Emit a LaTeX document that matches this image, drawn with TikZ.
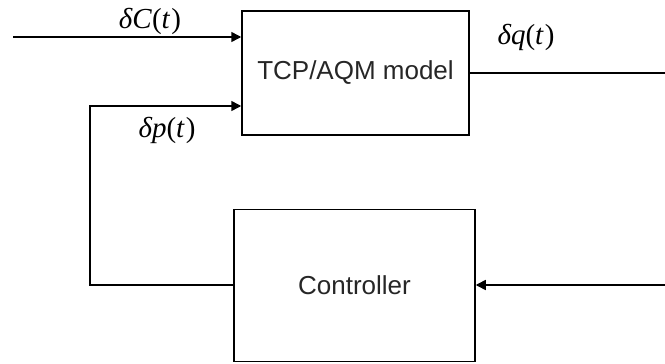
\documentclass[tikz,border=0pt]{standalone}
\usepackage{fontspec}
\setmainfont{Liberation Serif}
\newfontfamily\arialf{Liberation Sans}
\usetikzlibrary{arrows.meta}
\begin{document}
\begin{tikzpicture}[x=1pt,y=-1pt,
  blockbox/.style={draw,line width=1.5pt,inner sep=0pt,font=\arialf\fontsize{26}{30}\selectfont,text=black!85},
  conn/.style={line width=1.5pt},
  arr/.style={conn,-{Triangle[length=10pt,width=10pt]}},
  sig/.style={anchor=base,inner sep=0pt,font=\fontsize{29}{32}\selectfont}]
\useasboundingbox (0,0) rectangle (665,364);
\node[blockbox,minimum width=227pt,minimum height=124pt] (tcp) at (355.5,73) {TCP/AQM model};
\node[blockbox,minimum width=241pt,minimum height=152pt] (ctrl) at (354.5,285.5) {Controller};
\coordinate (inC) at (13,37);
\coordinate (outq) at (665,73);
\coordinate (fbin) at (665,285);
\coordinate (corner) at (90,106);
\draw[arr] (inC) -- (inC -| tcp.west);
\draw[conn] (tcp.east |- outq) -- (outq);
\draw[arr] (fbin) -- (fbin -| ctrl.east);
\draw[arr] (ctrl.west |- fbin) -| (corner) -- (corner -| tcp.west);
\node[sig] (lC) at (150,28) {\textit{δC}(\textit{t}\kern1pt)};
\node[sig] (lq) at (526,44) {\textit{δq}(\textit{t}\kern1pt)};
\node[sig] (lp) at (167,137) {\textit{δp}(\textit{t}\kern1pt)};
\end{tikzpicture}
\end{document}
